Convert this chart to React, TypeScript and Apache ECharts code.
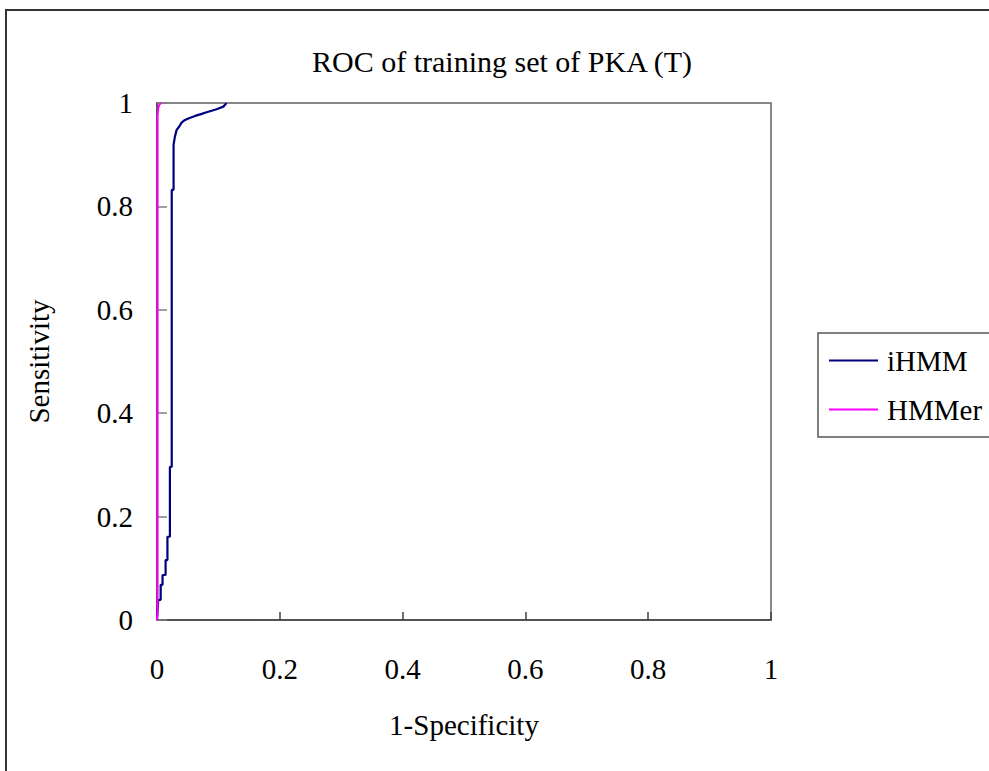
import React, { useEffect, useRef } from "react";
import * as echarts from "echarts";

const titleText = "ROC of training set of PKA (T)";
const xAxisName = "1-Specificity";
const yAxisName = "Sensitivity";
const seriesNames = ["iHMM", "HMMer"];
const seriesColors = ["#000080", "#FF00FF"];

// iHMM ROC points [1-specificity, sensitivity]
const iHMMx = [0, 0.001, 0.002, 0.006, 0.006, 0.009, 0.009, 0.014, 0.014, 0.017, 0.017, 0.021, 0.021, 0.024, 0.024, 0.027, 0.027, 0.029, 0.032, 0.036, 0.04, 0.044, 0.051, 0.062, 0.073, 0.078, 0.089, 0.097, 0.108, 0.112, 0.113];
const iHMMy = [0, 0.0, 0.039, 0.039, 0.068, 0.068, 0.087, 0.087, 0.116, 0.116, 0.161, 0.161, 0.296, 0.296, 0.832, 0.832, 0.919, 0.934, 0.948, 0.954, 0.962, 0.966, 0.97, 0.975, 0.979, 0.981, 0.985, 0.988, 0.993, 0.998, 1];

// HMMer ROC points
const hmmerX = [0, 0.001, 0.001, 0.002, 0.004, 0.007];
const hmmerY = [0, 0.02, 0.975, 0.99, 0.997, 1];

const tickValues = [0, 0.2, 0.4, 0.6, 0.8, 1];

const FONT = "'Liberation Serif', 'DejaVu Serif', serif";

export default function App() {
  const ref = useRef<HTMLDivElement>(null);
  useEffect(() => {
    if (!ref.current) return;
    const chart = echarts.init(ref.current, undefined, { renderer: "svg" });
    const pairs = (xs: number[], ys: number[]) => xs.map((x, i) => [x, ys[i]]);
    chart.setOption({
      animation: false,
      backgroundColor: "#ffffff",
      title: {
        text: titleText,
        left: 502,
        top: 46,
        textAlign: "center",
        padding: 0,
        textStyle: { fontFamily: FONT, fontSize: 30, fontWeight: "normal", color: "#000" },
      },
      graphic: [
        {
          type: "rect",
          shape: { x: 6, y: 10, width: 1000, height: 800 },
          style: { fill: "none", stroke: "#333", lineWidth: 2 },
          silent: true,
          z: -1,
        },
      ],
      legend: {
        orient: "vertical",
        left: 818,
        top: 333,
        padding: [13, 8, 13, 11],
        borderColor: "#555",
        borderWidth: 1.5,
        itemWidth: 49,
        itemHeight: 2,
        itemGap: 20,
        icon: "rect",
        data: seriesNames,
        textStyle: { fontFamily: FONT, fontSize: 29, color: "#000", lineHeight: 29, padding: [0, 0, 0, 4] },
      },
      grid: {
        left: 157,
        right: 218,
        top: 103,
        bottom: 151,
        show: true,
        borderColor: "#606060",
        borderWidth: 1.5,
        backgroundColor: "#fff",
      },
      xAxis: {
        type: "value",
        min: 0,
        max: 1,
        interval: 0.2,
        name: xAxisName,
        nameLocation: "middle",
        nameGap: 90,
        nameTextStyle: { fontFamily: FONT, fontSize: 29, color: "#000" },
        axisLine: { show: true, lineStyle: { color: "#404040", width: 1.5 } },
        axisTick: { show: true, inside: true, length: 8, lineStyle: { color: "#404040", width: 1.5 } },
        axisLabel: {
          margin: 34,
          fontFamily: FONT,
          fontSize: 29,
          color: "#000",
          formatter: (v: number) => (tickValues.includes(Math.round(v * 10) / 10) ? String(Math.round(v * 10) / 10) : ""),
        },
        splitLine: { show: false },
      },
      yAxis: {
        type: "value",
        min: 0,
        max: 1,
        interval: 0.2,
        name: yAxisName,
        nameLocation: "middle",
        nameGap: 104,
        nameRotate: 90,
        nameTextStyle: { fontFamily: FONT, fontSize: 29, color: "#000" },
        axisLine: { show: true, lineStyle: { color: "#404040", width: 1.5 } },
        axisTick: { show: true, inside: true, length: 10, lineStyle: { color: "#808080", width: 1.5 } },
        axisLabel: {
          margin: 24,
          fontFamily: FONT,
          fontSize: 29,
          color: "#000",
          formatter: (v: number) => String(Math.round(v * 10) / 10),
        },
        splitLine: { show: false },
      },
      series: [
        {
          name: seriesNames[0],
          type: "line",
          data: pairs(iHMMx, iHMMy),
          showSymbol: false,
          symbol: "none",
          color: seriesColors[0],
          lineStyle: { color: seriesColors[0], width: 2.2 },
          z: 2,
        },
        {
          name: seriesNames[1],
          type: "line",
          data: pairs(hmmerX, hmmerY),
          showSymbol: false,
          symbol: "none",
          color: seriesColors[1],
          lineStyle: { color: seriesColors[1], width: 2 },
          z: 3,
        },
      ],
    });
    return () => chart.dispose();
  }, []);
  return (
    <div
      ref={ref}
      style={{ position: "absolute", left: 0, top: 0, width: 989, height: 771 }}
    />
  );
}
